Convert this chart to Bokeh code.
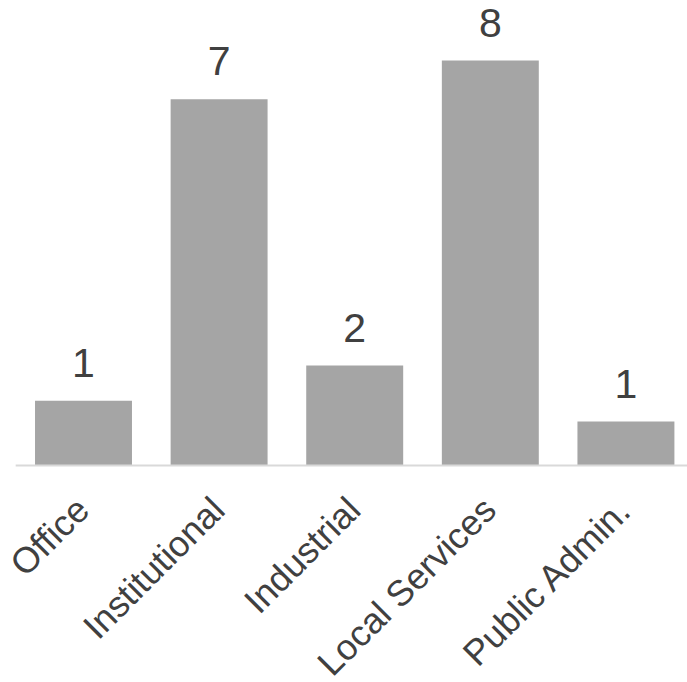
import math
from bokeh.plotting import figure
from bokeh.models import Range1d, ColumnDataSource, LabelSet
from bokeh.core.properties import value
from bokeh.embed import file_html
from bokeh.resources import INLINE

categories = ["Office", "Institutional", "Industrial", "Local Services", "Public Admin."]
values = [1.27, 7.18, 1.96, 7.94, 0.86]
labels = ["1", "7", "2", "8", "1"]

xs = list(range(len(categories)))
src = ColumnDataSource(dict(x=xs, top=values, label=labels, base=[0] * len(xs), cat=categories))

p = figure(width=687, height=682, output_backend="svg", toolbar_location=None,
           x_range=Range1d(-0.612, 4.454), y_range=Range1d(-4.255, 8.96),
           min_border_left=0, min_border_right=0, min_border_top=8, min_border_bottom=0)
p.outline_line_color = None
p.grid.visible = False
p.axis.visible = False
p.background_fill_color = "white"
p.border_fill_color = "white"

p.vbar(x="x", top="top", width=0.715, bottom=0, source=src,
       fill_color="#a5a5a5", line_color=None)

# category axis baseline, spanning the category bands
p.segment(x0=[xs[0] - 0.5], x1=[xs[-1] + 0.5], y0=[0], y1=[0],
          line_color="#d9d9d9", line_width=2)

p.text(x="x", y="top", text="label", source=src, text_align="center",
       text_baseline="alphabetic", y_offset=-38, text_font=value("Liberation Sans"),
       text_font_size="41px", text_color="#404040")

cat_labels = LabelSet(x="x", y="base", text="cat", source=src, angle=math.pi / 4,
                      text_align="right", text_baseline="middle", y_offset=-38, x_offset=-1,
                      text_font=value("Liberation Sans"), text_font_size="36px",
                      text_color="#404040")
p.add_layout(cat_labels)

open("out.html", "w").write(file_html(p, INLINE))
